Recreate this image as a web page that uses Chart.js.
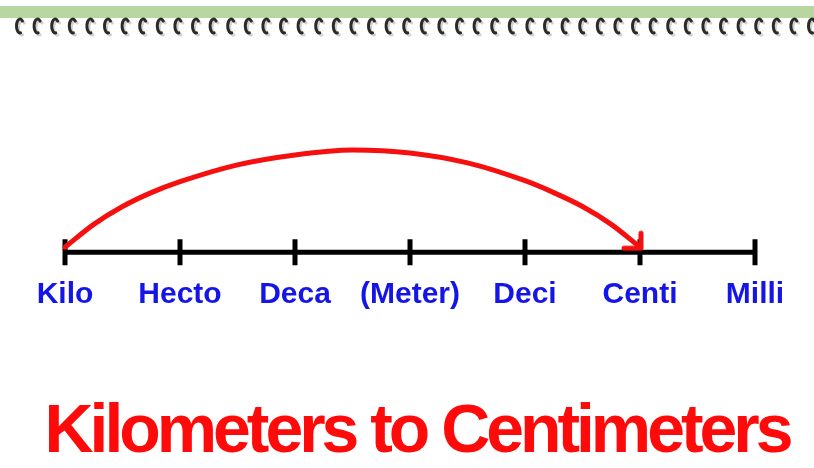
<!DOCTYPE html>
<html>
<head>
<meta charset="utf-8">
<script src="https://cdn.jsdelivr.net/npm/chart.js@4.4.1/dist/chart.umd.min.js"></script>
<style>
  html, body { margin: 0; padding: 0; background: #ffffff; }
  #wrap { width: 814px; height: 468px; }
</style>
</head>
<body>
<div id="wrap"><canvas id="unitChart"></canvas></div>
<script>
// metric prefixes along the line (x = 0..6)
const prefixes = ["Kilo", "Hecto", "Deca", "(Meter)", "Deci", "Centi", "Milli"];
const lineX = [0, 1, 2, 3, 4, 5, 6];
const lineValues = [0, 0, 0, 0, 0, 0, 0];
// red jump arrow, Kilo -> Centi, height above the line
const arcX = [0, 0.25, 0.5, 0.75, 1, 1.5, 2, 2.5, 3, 3.5, 4, 4.25, 4.5, 4.75, 5];
const arcValues = [5, 28, 46, 60, 71, 88, 98, 103, 100, 90, 72, 60, 46, 28, 5];
const titleText = "Kilometers to Centimeters";

// open arrow head, tip at the centre of the little canvas
function makeArrowHead() {
    const c = document.createElement("canvas");
    c.width = 40;
    c.height = 40;
    const g = c.getContext("2d");
    g.strokeStyle = "#f50f0f";
    g.lineWidth = 5;
    g.lineCap = "round";
    g.lineJoin = "round";
    g.beginPath();
    g.moveTo(4, 21);
    g.lineTo(21, 21);
    g.lineTo(21, 6);
    g.stroke();
    return c;
}
const arrowHead = makeArrowHead();

// notebook strip + big title
const decorPlugin = {
    id: "decor",
    beforeDraw(chart) {
        const ctx = chart.ctx;
        ctx.save();
        ctx.fillStyle = "#ffffff";
        ctx.fillRect(0, 0, chart.width, chart.height);
        ctx.fillStyle = "#b8d6a0";
        ctx.fillRect(0, 6, chart.width, 12);
        ctx.lineCap = "round";
        for (let x = 20; x < chart.width + 10; x += 17.6) {
            ctx.strokeStyle = "rgba(0,0,0,0.18)";
            ctx.lineWidth = 3;
            ctx.beginPath();
            ctx.ellipse(x + 2, 28, 3.5, 7, 0, Math.PI * 0.45, Math.PI * 1.75);
            ctx.stroke();
            ctx.strokeStyle = "#2a2a2a";
            ctx.lineWidth = 3;
            ctx.beginPath();
            ctx.ellipse(x, 26, 3.5, 7, 0, Math.PI * 0.45, Math.PI * 1.75);
            ctx.stroke();
        }
        ctx.restore();
    },
    afterDraw(chart) {
        const ctx = chart.ctx;
        ctx.save();
        ctx.fillStyle = "#ff0a0a";
        ctx.font = "bold 68px 'Liberation Sans', Arial, sans-serif";
        ctx.letterSpacing = "-4px";
        ctx.textAlign = "center";
        ctx.textBaseline = "alphabetic";
        ctx.fillText(titleText, 417, 452, 745);
        ctx.restore();
    }
};

new Chart(document.getElementById("unitChart").getContext("2d"), {
    type: "line",
    data: {
        datasets: [
            {
                label: "jump",
                data: arcX.map((x, i) => ({ x: x, y: arcValues[i] })),
                borderColor: "#f50f0f",
                borderWidth: 5,
                borderCapStyle: "round",
                cubicInterpolationMode: "monotone",
                fill: false,
                pointRadius: ctx => (ctx.dataIndex === arcX.length - 1 ? 10 : 0),
                pointStyle: ctx => (ctx.dataIndex === arcX.length - 1 ? arrowHead : "circle")
            },
            {
                label: "line",
                data: lineX.map((x, i) => ({ x: x, y: lineValues[i] })),
                borderColor: "#000000",
                borderWidth: 5,
                fill: false,
                pointStyle: "line",
                pointRotation: 90,
                pointRadius: 13,
                pointBorderWidth: 5,
                pointBorderColor: "#000000",
                pointBackgroundColor: "#000000"
            }
        ]
    },
    options: {
        responsive: true,
        maintainAspectRatio: false,
        animation: false,
        events: [],
        layout: {
            autoPadding: false,
            padding: { left: 7.5, right: 1.5, top: 143, bottom: 150 }
        },
        plugins: {
            legend: { display: false },
            tooltip: { enabled: false }
        },
        scales: {
            x: {
                type: "linear",
                min: -0.5,
                max: 6.5,
                grid: { display: false, drawTicks: false },
                border: { display: false },
                afterBuildTicks: axis => {
                    axis.ticks = lineX.map(v => ({ value: v }));
                },
                ticks: {
                    color: "#1515e8",
                    padding: 5,
                    maxRotation: 0,
                    autoSkip: false,
                    callback: v => prefixes[v],
                    font: { family: "'Liberation Sans', Arial, sans-serif", size: 30, weight: "bold" }
                }
            },
            y: {
                display: false,
                min: -20,
                max: 110
            }
        }
    },
    plugins: [decorPlugin]
});
</script>
</body>
</html>
